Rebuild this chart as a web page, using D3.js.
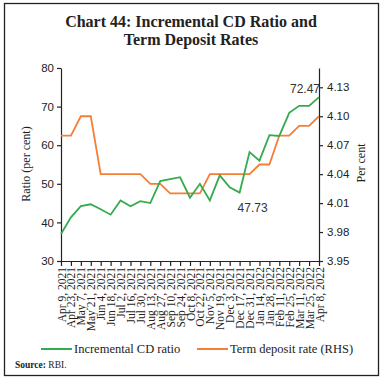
<!DOCTYPE html>
<html><head><meta charset="utf-8">
<script src="https://cdn.jsdelivr.net/npm/d3@7"></script>
<style>body{margin:0;background:#fff}svg{display:block}</style>
</head><body>
<svg id="c" width="383" height="381"></svg>
<script>
const categories = ["Apr 9, 2021","Apr 23, 2021","May 7, 2021","May 21, 2021","Jun 4, 2021","Jun 18, 2021","Jul 2, 2021","Jul 16, 2021","Jul 30, 2021","Aug 13, 2021","Aug 27, 2021","Sep 10, 2021","Sep 24, 2021","Oct 8, 2021","Oct 22, 2021","Nov 5, 2021","Nov 19, 2021","Dec 3, 2021","Dec 17, 2021","Dec 31, 2021","Jan 14, 2022","Jan 28, 2022","Feb 11, 2022","Feb 25, 2022","Mar 11, 2022","Mar 25, 2022","Apr 8, 2022"];
const cdRatio = [37.0,41.3,44.2,44.7,43.4,42.0,45.7,44.2,45.5,45.0,50.7,51.2,51.7,46.4,50.0,45.7,52.2,49.1,47.73,58.2,56.0,62.6,62.4,68.4,70.2,70.2,72.47];
const termRate = [4.08,4.08,4.10,4.10,4.04,4.04,4.04,4.04,4.04,4.03,4.03,4.02,4.02,4.02,4.02,4.04,4.04,4.04,4.04,4.04,4.05,4.05,4.08,4.08,4.09,4.09,4.10];
const leftTicks = [30,40,50,60,70,80];
const rightTicks = [3.95,3.98,4.01,4.04,4.07,4.10,4.13];
const labelIdx = [18, 26];

const svg = d3.select("#c");
const serif = "'Liberation Serif', 'DejaVu Serif', serif";
const sans = "'Liberation Sans', Arial, sans-serif";
const green = "#34ab4f", orange = "#f47f35";

svg.append("rect").attr("x",4.5).attr("y",3.5).attr("width",374).attr("height",372)
  .attr("fill","none").attr("stroke","#222").attr("stroke-width",1.3);

const title = svg.append("text").attr("text-anchor","middle").attr("font-family",serif)
  .attr("font-weight","bold").attr("font-size",16).attr("fill","#222");
title.append("tspan").attr("x",191).attr("y",27).text("Chart 44: Incremental CD Ratio and");
title.append("tspan").attr("x",191).attr("y",45).text("Term Deposit Rates");

const L = 61, R = 319, T = 68, B = 261;
const x = d3.scalePoint().domain(categories).range([L, R]);
const yL = d3.scaleLinear().domain([30, 80]).range([B, T]);
const yR = d3.scaleLinear().domain([3.95, 4.15]).range([B, T]);

const ax = svg.append("g").attr("transform",`translate(0,${B})`)
  .call(d3.axisBottom(x).tickSize(5).tickSizeOuter(0));
ax.selectAll("text").attr("transform","rotate(-90)").attr("text-anchor","end")
  .attr("x",-6).attr("y",0).attr("dy","0.35em")
  .attr("font-family",serif).attr("font-size",11.5).attr("fill","#222");

const al = svg.append("g").attr("transform",`translate(${L},0)`)
  .call(d3.axisLeft(yL).tickValues(leftTicks).tickSize(4).tickSizeOuter(0).tickFormat(d3.format("d")));
al.selectAll("text").attr("font-family",sans).attr("font-size",11.5).attr("fill","#222").attr("x",-7);

const ar = svg.append("g").attr("transform",`translate(${R},0)`)
  .call(d3.axisRight(yR).tickValues(rightTicks).tickSize(4).tickSizeOuter(0).tickFormat(d3.format(".2f")));
ar.selectAll("text").attr("font-family",sans).attr("font-size",11.5).attr("fill","#222").attr("x",8);

svg.selectAll(".domain, .tick line").attr("stroke","#222").attr("stroke-width",1.2);

svg.append("text").attr("transform","translate(30,164) rotate(-90)").attr("text-anchor","middle")
  .attr("font-family",serif).attr("font-size",12).attr("fill","#222").text("Ratio (per cent)");
svg.append("text").attr("transform","translate(365,163) rotate(-90)").attr("text-anchor","middle")
  .attr("font-family",serif).attr("font-size",12).attr("fill","#222").text("Per cent");

svg.append("path").datum(termRate).attr("fill","none").attr("stroke",orange).attr("stroke-width",1.8)
  .attr("d", d3.line().x((d,i)=>x(categories[i])).y(d=>yR(d)));
svg.append("path").datum(cdRatio).attr("fill","none").attr("stroke",green).attr("stroke-width",1.8)
  .attr("d", d3.line().x((d,i)=>x(categories[i])).y(d=>yL(d)));

svg.append("text").attr("x",x(categories[labelIdx[1]])-14).attr("y",yL(cdRatio[labelIdx[1]])-4)
  .attr("text-anchor","middle").attr("font-family",sans).attr("font-size",12).attr("fill","#333")
  .text(cdRatio[labelIdx[1]].toFixed(2));
svg.append("text").attr("x",x(categories[labelIdx[0]])+13).attr("y",yL(cdRatio[labelIdx[0]])+19)
  .attr("text-anchor","middle").attr("font-family",sans).attr("font-size",12).attr("fill","#333")
  .text(cdRatio[labelIdx[0]].toFixed(2));

svg.append("line").attr("x1",41).attr("x2",72).attr("y1",349).attr("y2",349).attr("stroke",green).attr("stroke-width",2);
svg.append("text").attr("x",74).attr("y",353).attr("font-family",serif).attr("font-size",12.5).attr("fill","#222").text("Incremental CD ratio");
svg.append("line").attr("x1",197).attr("x2",228).attr("y1",349).attr("y2",349).attr("stroke",orange).attr("stroke-width",2);
svg.append("text").attr("x",230).attr("y",353).attr("font-family",serif).attr("font-size",12.5).attr("fill","#222").text("Term deposit rate (RHS)");

const src = svg.append("text").attr("x",15).attr("y",368).attr("font-family",serif).attr("font-size",9.5).attr("fill","#222");
src.append("tspan").attr("font-weight","bold").text("Source: ");
src.append("tspan").text("RBI.");
</script>
</body></html>
